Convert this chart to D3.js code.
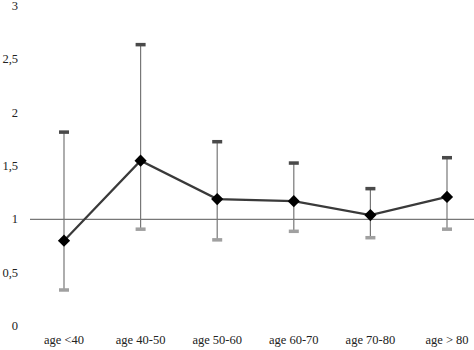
<!DOCTYPE html>
<html><head><meta charset="utf-8">
<script src="https://cdn.jsdelivr.net/npm/d3@7"></script>
<style>body{margin:0;background:#fff} svg text{font-family:"Liberation Serif","Times New Roman",serif !important;}</style>
</head><body><svg id="c" width="474" height="350"></svg>
<script>
const categories = ["age <40","age 40-50","age 50-60","age 60-70","age 70-80","age > 80"];
const values = [0.80,1.55,1.19,1.17,1.04,1.21];
const upper = [1.82,2.64,1.73,1.53,1.29,1.58];
const lower = [0.34,0.91,0.81,0.89,0.83,0.91];
const yTicks = [0,0.5,1,1.5,2,2.5,3];
const yTickLabels = ["0","0,5","1","1,5","2","2,5","3"];

const svg = d3.select("#c");
const x = d3.scalePoint().domain(categories).range([64,447]);
const y = d3.scaleLinear().domain([0,3]).range([326,6]);
const FONT = '"Liberation Serif", "Times New Roman", serif';

// y tick labels
svg.append("g").selectAll("text").data(yTicks).join("text")
  .attr("x",18).attr("y",d=>y(d)+4)
  .attr("text-anchor","end")
  .attr("font-family",FONT).style("font-family",FONT,"important")
  .attr("font-size",12.5).attr("fill","#222")
  .text((d,i)=>yTickLabels[i]);

// x labels
svg.append("g").selectAll("text").data(categories).join("text")
  .attr("x",d=>x(d)).attr("y",344)
  .attr("text-anchor","middle")
  .attr("font-family",FONT).style("font-family",FONT,"important")
  .attr("font-size",12.5).attr("fill","#222")
  .text(d=>d);

// reference line at 1
svg.append("line").attr("x1",30).attr("x2",474).attr("y1",y(1)).attr("y2",y(1))
  .attr("stroke","#777").attr("stroke-width",1.2);

// error bars
const eb = svg.append("g");
categories.forEach((c,i)=>{
  eb.append("line").attr("x1",x(c)).attr("x2",x(c)).attr("y1",y(upper[i])).attr("y2",y(lower[i]))
    .attr("stroke","#777").attr("stroke-width",1.2);
  eb.append("rect").attr("x",x(c)-5).attr("y",y(upper[i])-1.5).attr("width",10).attr("height",3.5)
    .attr("fill","#4a4a4a");
  eb.append("rect").attr("x",x(c)-5).attr("y",y(lower[i])-1.5).attr("width",10).attr("height",3.5)
    .attr("fill","#a0a0a0");
});

// line
svg.append("path").datum(values)
  .attr("d",d3.line().x((d,i)=>x(categories[i])).y(d=>y(d)))
  .attr("fill","none").attr("stroke","#3a3a3a").attr("stroke-width",2.2);

// diamonds
svg.append("g").selectAll("path").data(values).join("path")
  .attr("transform",(d,i)=>`translate(${x(categories[i])},${y(d)})`)
  .attr("d",d3.symbol().type(d3.symbolDiamond2).size(95))
  .attr("fill","#000");
</script></body></html>
